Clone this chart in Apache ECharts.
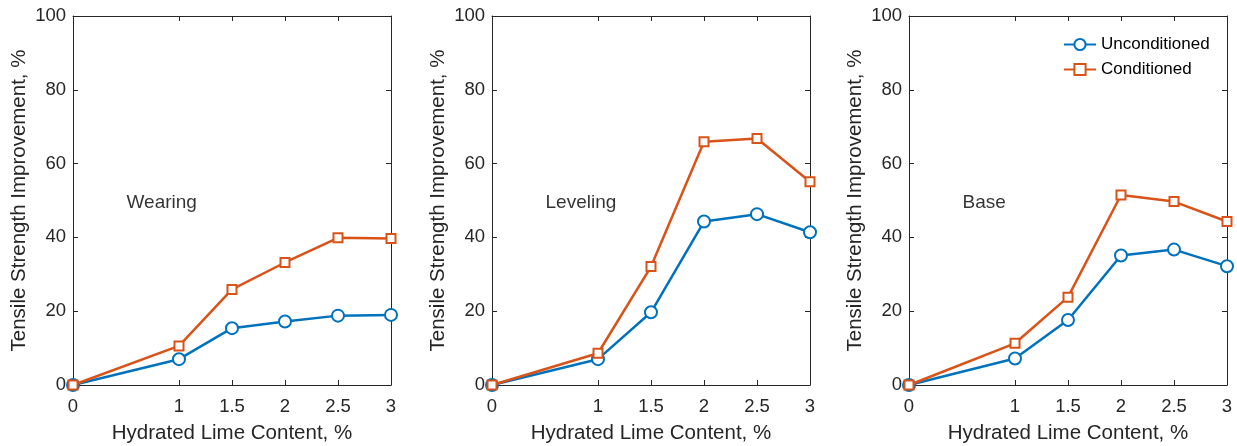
<!DOCTYPE html>
<html>
<head>
<meta charset="utf-8">
<script src="https://cdn.jsdelivr.net/npm/echarts@6/dist/echarts.min.js"></script>
<style>
  html, body { margin: 0; padding: 0; background: #fff; }
  #chart { width: 1237px; height: 446px; }
</style>
</head>
<body>
<div id="chart"></div>
<script>
// lime content (x) and tick positions
const limeContent = [0, 1, 1.5, 2, 2.5, 3]
const xTickValues = [0, 1, 1.5, 2, 2.5, 3]
const panelLabels = ['Wearing', 'Leveling', 'Base']
const seriesNames = ['Unconditioned', 'Conditioned']

// values, %
const wearingUncond = [0, 7.0, 15.4, 17.2, 18.8, 19.0]
const wearingCond = [0, 10.6, 25.9, 33.2, 39.9, 39.7]
const levelingUncond = [0, 7.0, 19.7, 44.3, 46.3, 41.4]
const levelingCond = [0, 8.6, 32.1, 65.9, 66.8, 55.1]
const baseUncond = [0, 7.2, 17.6, 35.1, 36.7, 32.2]
const baseCond = [0, 11.3, 23.8, 51.5, 49.7, 44.3]

const panels = [
    {label: panelLabels[0], uncond: wearingUncond, cond: wearingCond},
    {label: panelLabels[1], uncond: levelingUncond, cond: levelingCond},
    {label: panelLabels[2], uncond: baseUncond, cond: baseCond}
]

const textColor = '#262626'
const axisColor = '#262626'
const blue = '#0072BD'
const orange = '#D95319'
const font = 'Liberation Sans, Arial, sans-serif'

const gridLefts = [73, 492, 909]
const grids = gridLefts.map(l => ({left: l, top: 16, width: 318, height: 369, outerBoundsMode: 'none', containLabel: false}))

function zip (xs, ys) {
    return xs.map((x, i) => [x, ys[i]])
}

let xAxes = []
let yAxes = []
let series = []

panels.forEach((p, i) => {
    // bottom x axis
    xAxes.push({
        gridIndex: i, type: 'value', min: 0, max: 3, position: 'bottom',
        name: 'Hydrated Lime Content, %', nameLocation: 'middle', nameGap: 38,
        nameTextStyle: {color: textColor, fontSize: 20.5, fontFamily: font},
        axisLine: {show: true, onZero: false, lineStyle: {color: axisColor, width: 1}},
        axisTick: {show: true, inside: true, length: 5, customValues: xTickValues, lineStyle: {color: axisColor}},
        axisLabel: {customValues: xTickValues, color: textColor, fontSize: 18.5, fontFamily: font, margin: 12},
        splitLine: {show: false}
    })
    // top x axis (box)
    xAxes.push({
        gridIndex: i, type: 'value', min: 0, max: 3, position: 'top',
        axisLine: {show: true, onZero: false, lineStyle: {color: axisColor, width: 1}},
        axisTick: {show: true, inside: true, length: 5, customValues: xTickValues, lineStyle: {color: axisColor}},
        axisLabel: {show: false},
        splitLine: {show: false}
    })
    // left y axis
    yAxes.push({
        gridIndex: i, type: 'value', min: 0, max: 100, interval: 20, position: 'left',
        name: 'Tensile Strength Improvement, %', nameLocation: 'middle', nameGap: 43,
        nameTextStyle: {color: textColor, fontSize: 20.5, fontFamily: font},
        axisLine: {show: true, onZero: false, lineStyle: {color: axisColor, width: 1}},
        axisTick: {show: true, inside: true, length: 5, lineStyle: {color: axisColor}},
        axisLabel: {color: textColor, fontSize: 18.5, fontFamily: font, margin: 7},
        splitLine: {show: false}
    })
    // right y axis (box)
    yAxes.push({
        gridIndex: i, type: 'value', min: 0, max: 100, interval: 20, position: 'right',
        axisLine: {show: true, onZero: false, lineStyle: {color: axisColor, width: 1}},
        axisTick: {show: true, inside: true, length: 5, lineStyle: {color: axisColor}},
        axisLabel: {show: false},
        splitLine: {show: false}
    })

    series.push({
        name: seriesNames[0], type: 'line', xAxisIndex: i * 2, yAxisIndex: i * 2,
        data: zip(limeContent, p.uncond),
        symbol: 'emptyCircle', symbolSize: 12,
        itemStyle: {color: blue, borderWidth: 2.5},
        lineStyle: {color: blue, width: 2.5},
        z: 2
    })
    series.push({
        name: seriesNames[1], type: 'line', xAxisIndex: i * 2, yAxisIndex: i * 2,
        data: zip(limeContent, p.cond),
        symbol: 'emptyRect', symbolSize: 9,
        itemStyle: {color: orange, borderWidth: 1.5},
        lineStyle: {color: orange, width: 2.5},
        z: 3
    })
    // panel annotation at (0.5, 50)
    series.push({
        name: p.label, type: 'scatter', xAxisIndex: i * 2, yAxisIndex: i * 2,
        data: [[0.5, 50]], symbolSize: 1, silent: true,
        itemStyle: {color: 'rgba(0,0,0,0)'},
        label: {
            show: true, position: 'right', distance: 0, offset: [0, 2], formatter: p.label,
            color: '#000', fontSize: 19, fontFamily: font
        }
    })
})

const chart = echarts.init(document.getElementById('chart'), null, {renderer: 'canvas'})
chart.setOption({
    animation: false,
    backgroundColor: '#fff',
    grid: grids,
    xAxis: xAxes,
    yAxis: yAxes,
    legend: {
        data: seriesNames, orient: 'vertical', left: 1058, top: 31,
        itemWidth: 32, itemHeight: 14, itemGap: 8,
        textStyle: {color: '#000', fontSize: 17, fontFamily: font}
    },
    series: series
})
</script>
</body>
</html>
